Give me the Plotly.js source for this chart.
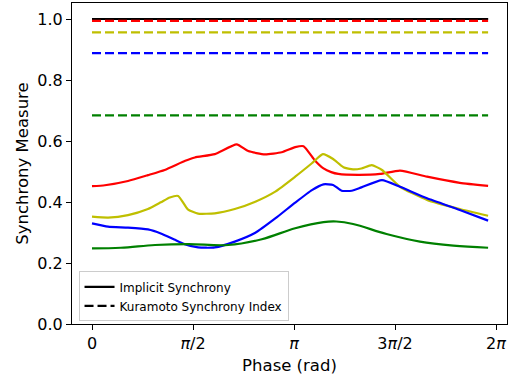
<!DOCTYPE html>
<html>
<head>
<meta charset="utf-8">
<script src="https://cdn.plot.ly/plotly-3.0.1.min.js"></script>
<style>html,body{margin:0;padding:0;background:#fff;}#chart{width:512px;height:379px;}</style>
</head>
<body>
<div id="chart"></div>
<script>
// Implicit synchrony curves (phase in rad, value)
var redPhase = [0, 0.20, 0.56, 0.87, 1.13, 1.45, 1.60, 1.91, 2.25, 2.43, 2.69, 2.95, 3.16, 3.29, 3.47, 3.60, 3.72, 3.83, 4.14, 4.48, 4.79, 5.21, 5.72, 6.16];
var redValues = [0.452, 0.455, 0.469, 0.488, 0.505, 0.535, 0.546, 0.557, 0.589, 0.567, 0.556, 0.563, 0.580, 0.583, 0.535, 0.510, 0.498, 0.492, 0.489, 0.492, 0.503, 0.483, 0.463, 0.453];

var yellowPhase = [0, 0.25, 0.56, 0.87, 1.07, 1.21, 1.34, 1.49, 1.65, 1.91, 2.22, 2.54, 2.85, 3.16, 3.42, 3.59, 3.75, 3.91, 4.06, 4.19, 4.35, 4.51, 4.79, 5.21, 5.72, 6.16];
var yellowValues = [0.352, 0.349, 0.357, 0.377, 0.399, 0.415, 0.420, 0.376, 0.362, 0.363, 0.377, 0.401, 0.434, 0.483, 0.527, 0.557, 0.541, 0.514, 0.507, 0.510, 0.521, 0.505, 0.450, 0.407, 0.377, 0.355];

var bluePhase = [0, 0.25, 0.56, 0.87, 1.07, 1.28, 1.44, 1.65, 1.91, 2.22, 2.54, 2.85, 3.16, 3.42, 3.60, 3.75, 3.88, 4.04, 4.19, 4.51, 4.79, 5.21, 5.72, 6.16];
var blueValues = [0.330, 0.319, 0.316, 0.310, 0.297, 0.277, 0.262, 0.251, 0.251, 0.270, 0.299, 0.346, 0.398, 0.439, 0.458, 0.456, 0.437, 0.437, 0.448, 0.472, 0.450, 0.412, 0.374, 0.339];

var greenPhase = [0, 0.45, 0.98, 1.50, 2.12, 2.64, 3.16, 3.60, 3.80, 4.06, 4.58, 5.10, 5.62, 6.16];
var greenValues = [0.248, 0.250, 0.259, 0.262, 0.259, 0.278, 0.314, 0.334, 0.336, 0.328, 0.295, 0.270, 0.257, 0.250];

var blackImplicit = 1.0;

// Kuramoto synchrony index (constant over phase)
var kuramotoPhase = [0, 6.16];
var kuramotoBlack = 1.0;
var kuramotoRed = 0.994;
var kuramotoYellow = 0.956;
var kuramotoBlue = 0.888;
var kuramotoGreen = 0.684;

var xTickVals = [0, Math.PI / 2, Math.PI, 3 * Math.PI / 2, 2 * Math.PI];
var xTickText = ['0', '<i>π</i>/2', '<i>π</i>', '3<i>π</i>/2', '2<i>π</i>'];
var yTickVals = [0, 0.2, 0.4, 0.6, 0.8, 1.0];
var yTickText = ['0.0', '0.2', '0.4', '0.6', '0.8', '1.0'];

var W = 2.2;
var DASH = '9px,4px';
function flat(v) { return kuramotoPhase.map(function () { return v; }); }
function dashed(v, color) {
  return {x: kuramotoPhase, y: flat(v), mode: 'lines', line: {color: color, width: W, dash: DASH}, showlegend: false, hoverinfo: 'skip'};
}
function solid(x, y, color, sm) {
  return {x: x, y: y, mode: 'lines', line: {color: color, width: W, shape: 'spline', smoothing: sm}, showlegend: false};
}

var traces = [
  {x: kuramotoPhase, y: flat(blackImplicit), mode: 'lines', name: 'Implicit Synchrony', line: {color: 'black', width: W}, showlegend: true},
  solid(redPhase, redValues, '#ff0000', 0.5),
  solid(yellowPhase, yellowValues, '#bfbf00', 0.5),
  solid(bluePhase, blueValues, '#0000ff', 0.5),
  solid(greenPhase, greenValues, '#008000', 1),
  {x: kuramotoPhase, y: flat(kuramotoBlack), mode: 'lines', name: 'Kuramoto Synchrony Index', line: {color: 'black', width: W, dash: DASH}, showlegend: true},
  dashed(kuramotoRed, '#ff0000'),
  dashed(kuramotoYellow, '#bfbf00'),
  dashed(kuramotoBlue, '#0000ff'),
  dashed(kuramotoGreen, '#008000')
];

var font = {family: 'DejaVu Sans, sans-serif', color: 'black'};
var layout = {
  width: 512, height: 379,
  margin: {l: 72, r: 5, t: 3, b: 55},
  paper_bgcolor: 'white', plot_bgcolor: 'white',
  font: font,
  xaxis: {
    range: [-0.311, 6.454],
    tickvals: xTickVals, ticktext: xTickText,
    ticks: 'outside', ticklen: 5, tickcolor: 'black', tickwidth: 1,
    showline: true, mirror: true, linecolor: 'black', linewidth: 1,
    showgrid: false, zeroline: false,
    tickfont: {family: 'DejaVu Sans, sans-serif', size: 16, color: 'black'},
    title: {text: 'Phase (rad)', font: {family: 'DejaVu Sans, sans-serif', size: 16.5, color: 'black'}, standoff: 7}
  },
  yaxis: {
    range: [0, 1.0525],
    tickvals: yTickVals, ticktext: yTickText,
    ticks: 'outside', ticklen: 5, tickcolor: 'black', tickwidth: 1,
    showline: true, mirror: true, linecolor: 'black', linewidth: 1,
    showgrid: false, zeroline: false,
    tickfont: {family: 'DejaVu Sans, sans-serif', size: 16, color: 'black'},
    title: {text: 'Synchrony Measure', font: {family: 'DejaVu Sans, sans-serif', size: 16.5, color: 'black'}, standoff: 4}
  },
  legend: {
    x: 0.015, y: 0.008, xanchor: 'left', yanchor: 'bottom',
    bgcolor: 'rgba(255,255,255,0.8)', bordercolor: '#cccccc', borderwidth: 1,
    font: {family: 'DejaVu Sans, sans-serif', size: 12, color: 'black'},
    itemwidth: 30, tracegroupgap: 0
  },
  showlegend: true
};

Plotly.newPlot('chart', traces, layout, {displayModeBar: false, staticPlot: true});
</script>
</body>
</html>
